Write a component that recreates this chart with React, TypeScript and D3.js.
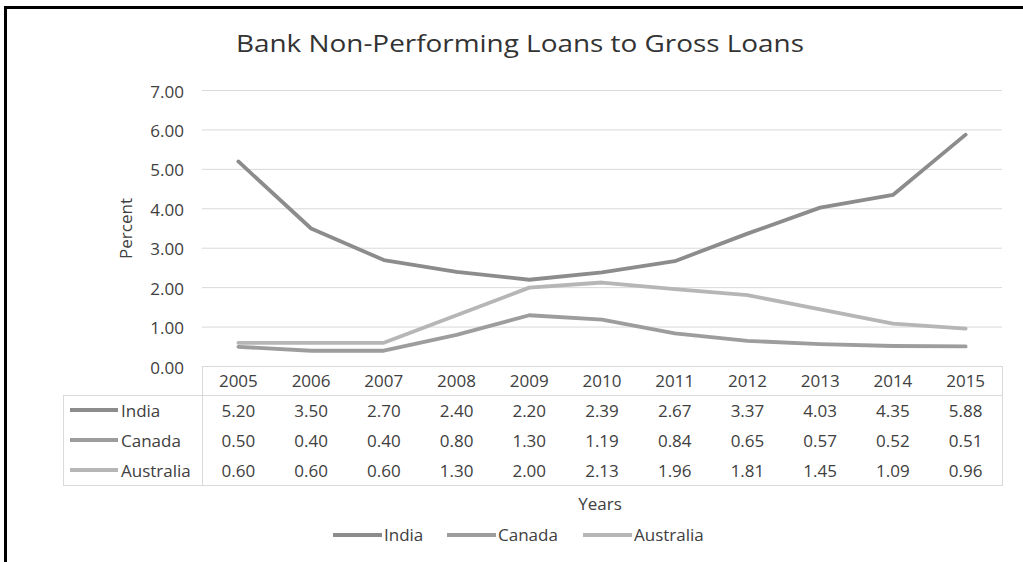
import React from "react";
import * as d3 from "d3";

const years = ["2005","2006","2007","2008","2009","2010","2011","2012","2013","2014","2015"];
const india = [5.20,3.50,2.70,2.40,2.20,2.39,2.67,3.37,4.03,4.35,5.88];
const canada = [0.50,0.40,0.40,0.80,1.30,1.19,0.84,0.65,0.57,0.52,0.51];
const australia = [0.60,0.60,0.60,1.30,2.00,2.13,1.96,1.81,1.45,1.09,0.96];
const yTicks = [0,1,2,3,4,5,6,7];
const seriesNames = ["India","Canada","Australia"];
const seriesColors = ["#8c8c8c","#9d9d9d","#b6b6b6"];

const W = 1023, H = 562;
const FONT = "'Open Sans', sans-serif";

export default function App() {
  const x = d3.scaleBand<string>().domain(years).range([202, 1002]);
  const y = d3.scaleLinear().domain([0, 7]).range([366.5, 90.5]);
  const data = [india, canada, australia];
  const cx = (i: number) => (x(years[i]) as number) + x.bandwidth() / 2;
  const line = d3.line<number>().x((_, i) => cx(i)).y(d => y(d));
  const rowY = [410, 440, 470];
  const textColor = "#404040";
  const legendX = [333, 447, 583];
  const fs = 17;
  return (
    <svg width={W} height={H} style={{ position: "absolute", left: 0, top: 0, background: "#fff" }} fontFamily={FONT}>
      <rect x={0} y={0} width={W} height={H} fill="#fff" />
      <line x1={5} y1={7.5} x2={W} y2={7.5} stroke="#000" strokeWidth={3} />
      <line x1={5.5} y1={6} x2={5.5} y2={H} stroke="#000" strokeWidth={3} />
      <text x={520} y={52} textAnchor="middle" fontSize={24.5} fill="#333" textLength={568} lengthAdjust="spacingAndGlyphs">Bank Non-Performing Loans to Gross Loans</text>
      {yTicks.map(t => (
        <g key={t}>
          {t > 0 && <line x1={202} x2={1002} y1={y(t)} y2={y(t)} stroke="#d9d9d9" strokeWidth={1} />}
          <text x={184} y={y(t) + 7} textAnchor="end" fontSize={fs} fill={textColor}>{t.toFixed(2)}</text>
        </g>
      ))}
      <text transform={`translate(132,228.5) rotate(-90)`} textAnchor="middle" fontSize={fs} fill={textColor}>Percent</text>
      {/* table */}
      <line x1={202} x2={1002} y1={366.5} y2={366.5} stroke="#d9d9d9" />
      <line x1={64} x2={1002} y1={395.5} y2={395.5} stroke="#d9d9d9" />
      <line x1={64} x2={1002} y1={485.5} y2={485.5} stroke="#d9d9d9" />
      <line x1={63.5} x2={63.5} y1={395} y2={486} stroke="#d9d9d9" />
      <line x1={202.5} x2={202.5} y1={366} y2={486} stroke="#d9d9d9" />
      <line x1={1002.5} x2={1002.5} y1={366} y2={486} stroke="#d9d9d9" />
      {years.map((yr, i) => (
        <text key={yr} x={cx(i)} y={387} textAnchor="middle" fontSize={fs} fill={textColor}>{yr}</text>
      ))}
      {data.map((s, si) => (
        <g key={si}>
          <line x1={70} x2={118} y1={rowY[si]} y2={rowY[si]} stroke={seriesColors[si]} strokeWidth={4} />
          <text x={121} y={rowY[si] + 7} fontSize={fs} fill={textColor}>{seriesNames[si]}</text>
          {s.map((v, i) => (
            <text key={i} x={cx(i)} y={rowY[si] + 7} textAnchor="middle" fontSize={fs} fill={textColor}>{v.toFixed(2)}</text>
          ))}
        </g>
      ))}
      {data.map((s, si) => (
        <path key={si} d={line(s) as string} fill="none" stroke={seriesColors[si]} strokeWidth={3.8} strokeLinejoin="round" strokeLinecap="round" />
      ))}
      <text x={600} y={510} textAnchor="middle" fontSize={fs} fill={textColor}>Years</text>
      {seriesNames.map((n, i) => (
        <g key={n}>
          <line x1={legendX[i]} x2={legendX[i] + 49} y1={535} y2={535} stroke={seriesColors[i]} strokeWidth={4} />
          <text x={legendX[i] + 51} y={541} fontSize={fs} fill={textColor}>{n}</text>
        </g>
      ))}
    </svg>
  );
}
